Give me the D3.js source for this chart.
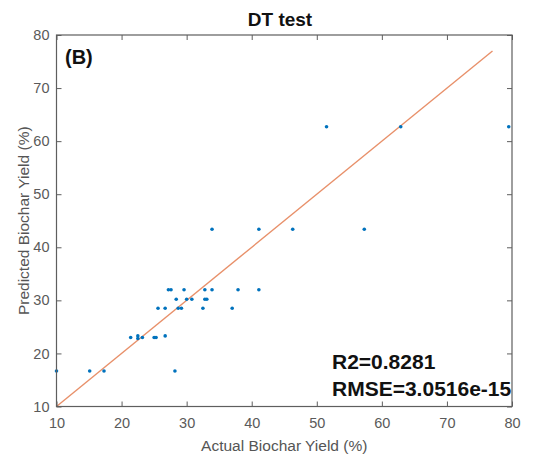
<!DOCTYPE html>
<html>
<head>
<meta charset="utf-8">
<script src="https://cdn.jsdelivr.net/npm/d3@7"></script>
<style>
  body { margin: 0; background: #fff; }
  svg { display: block; }
</style>
</head>
<body>
<div class="chart"></div>
<script>
// values
var actual    = [51.5, 62.9, 79.5,
                 33.9, 41.1, 46.3, 57.3,
                 27.2, 27.6, 29.6, 32.8, 33.9, 37.9, 41.1,
                 28.4, 30.0, 30.8, 32.8, 33.1,
                 25.6, 26.7, 28.7, 29.2, 32.5, 37.0,
                 21.4, 22.5, 22.5, 23.2, 25.0, 25.3, 26.7,
                 10.0, 15.1, 17.3, 28.2]
var predicted = [62.7, 62.7, 62.7,
                 43.4, 43.4, 43.4, 43.4,
                 32.0, 32.0, 32.0, 32.0, 32.0, 32.0, 32.0,
                 30.2, 30.2, 30.2, 30.2, 30.2,
                 28.5, 28.5, 28.5, 28.5, 28.5, 28.5,
                 23.0, 23.3, 22.8, 23.0, 23.0, 23.0, 23.3,
                 16.7, 16.7, 16.7, 16.7]
var fitLine = [10, 77]
var xTicks = [10, 20, 30, 40, 50, 60, 70, 80]
var yTicks = [10, 20, 30, 40, 50, 60, 70, 80]
var stats = ["R2=0.8281", "RMSE=3.0516e-15"]

var width = 540, height = 456
var margin = ({top: 35, right: 28, bottom: 49.5, left: 56.5})
var font = '"Liberation Sans", Arial, sans-serif'
var axisColor = "#5e5e5e"

var svg = d3.select(".chart")
  .append("svg")
    .attr("width", width)
    .attr("height", height)

var iw = width - margin.left - margin.right
var ih = height - margin.top - margin.bottom

var g = svg.append("g")
    .attr("transform", `translate(${margin.left},${margin.top})`)

const x = d3.scaleLinear().domain([10, 80]).range([0, iw])
const y = d3.scaleLinear().domain([10, 80]).range([ih, 0])

// fit line
g.append("line")
  .attr("x1", x(fitLine[0])).attr("y1", y(fitLine[0]))
  .attr("x2", x(fitLine[1])).attr("y2", y(fitLine[1]))
  .attr("stroke", "#e8906a")
  .attr("stroke-width", 1.4)

// points
g.selectAll("circle.pt")
  .data(actual.map((a, i) => ({a: a, p: predicted[i]})))
  .join("circle")
    .attr("class", "pt")
    .attr("cx", d => x(d.a))
    .attr("cy", d => y(d.p))
    .attr("r", 1.8)
    .attr("fill", "#0072BD")

// axes, ticks pointing inward on all four sides
function styleAxis(sel) {
  sel.select(".domain").remove()
  sel.selectAll("line").attr("stroke", axisColor)
  sel.selectAll("text")
    .attr("fill", "#5a5a5a")
    .attr("font-family", font)
    .attr("font-size", 14.5)
}

g.append("g").attr("transform", `translate(0,${ih})`)
  .call(d3.axisBottom(x).tickValues(xTicks).tickSize(-5).tickPadding(11))
  .call(styleAxis)
g.append("g")
  .call(d3.axisTop(x).tickValues(xTicks).tickSize(-5).tickFormat(""))
  .call(styleAxis)
g.append("g")
  .call(d3.axisLeft(y).tickValues(yTicks).tickSize(-5).tickPadding(7))
  .call(styleAxis)
g.append("g").attr("transform", `translate(${iw},0)`)
  .call(d3.axisRight(y).tickValues(yTicks).tickSize(-5).tickFormat(""))
  .call(styleAxis)

g.append("rect")
  .attr("width", iw).attr("height", ih)
  .attr("fill", "none")
  .attr("stroke", axisColor)
  .attr("stroke-width", 1.2)

// title and labels
svg.append("text")
  .attr("x", 280).attr("y", 26)
  .attr("text-anchor", "middle")
  .attr("font-family", font).attr("font-size", 19).attr("font-weight", "bold")
  .attr("fill", "#111")
  .text("DT test")

svg.append("text")
  .attr("x", margin.left + iw / 2).attr("y", 451)
  .attr("text-anchor", "middle")
  .attr("font-family", font).attr("font-size", 15.5)
  .attr("fill", "#555")
  .text("Actual Biochar Yield (%)")

svg.append("text")
  .attr("transform", `translate(29,${margin.top + ih / 2}) rotate(-90)`)
  .attr("text-anchor", "middle")
  .attr("font-family", font).attr("font-size", 15.5)
  .attr("fill", "#555")
  .text("Predicted Biochar Yield (%)")

svg.append("text")
  .attr("x", 65).attr("y", 64)
  .attr("font-family", font).attr("font-size", 20).attr("font-weight", "bold")
  .attr("fill", "#111")
  .text("(B)")

svg.selectAll("text.stat")
  .data(stats)
  .join("text")
    .attr("class", "stat")
    .attr("x", 332)
    .attr("y", (d, i) => 369 + i * 27)
    .attr("font-family", font).attr("font-size", 21).attr("font-weight", "bold")
    .attr("fill", "#111")
    .text(d => d)
</script>
</body>
</html>
